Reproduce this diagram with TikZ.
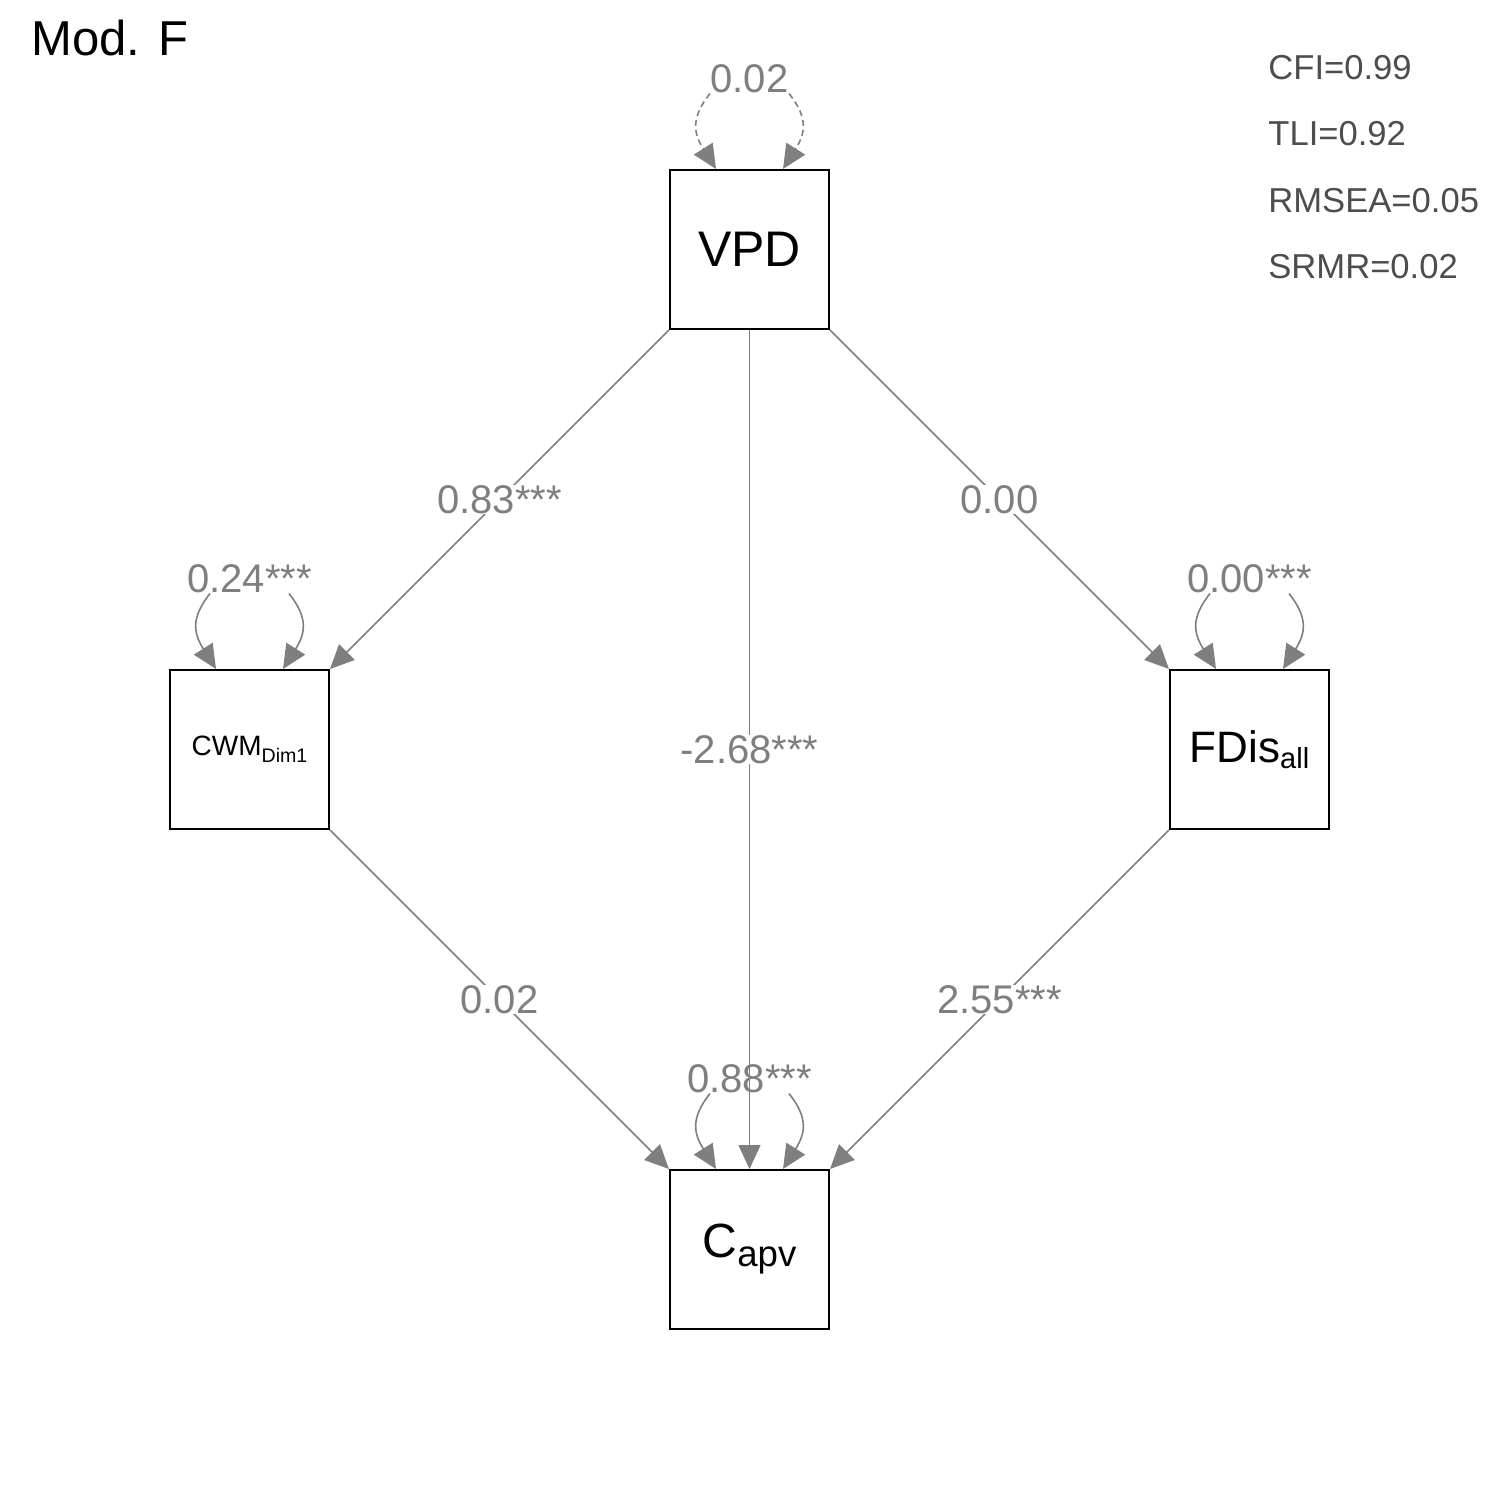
\documentclass[tikz,border=0pt]{standalone}
\usepackage{fontspec}
\setmainfont{Liberation Sans}
\usetikzlibrary{arrows.meta}
\definecolor{pathgray}{HTML}{7F7F7F}
\definecolor{fitgray}{HTML}{4D4D4D}
\tikzset{
  var/.style={draw=black,line width=1pt,minimum size=79.5pt,inner sep=0pt},
  regline/.style={draw=pathgray,line width=0.8pt,-{Triangle[length=12pt,width=11pt,fill=pathgray]}},
  resid/.style={regline},
  resdash/.style={dash pattern=on 3pt off 2pt},
  est/.style={text=pathgray,fill=white,inner sep=0pt,font=\fontsize{20pt}{21pt}\selectfont},
  fitstat/.style={text=fitgray,anchor=west,inner sep=0pt,font=\fontsize{17.3pt}{18pt}\selectfont},
}
\begin{document}
\begin{tikzpicture}[x=0.5pt,y=-0.5pt]
    \useasboundingbox (0,0) rectangle (1500,1500);
    % title and fit
    \node[anchor=west,inner sep=0pt,font=\fontsize{24.5pt}{26pt}\selectfont] (title) at (31,38) {Mod. F};
    \node[fitstat] (cfi) at (1268,68) {CFI=0.99};
    \node[fitstat] (tli) at (1268,134) {TLI=0.92};
    \node[fitstat] (rmsea) at (1268,201) {RMSEA=0.05};
    \node[fitstat] (srmr) at (1268,267) {SRMR=0.02};
    % variables
    \node[var,font=\fontsize{25pt}{27pt}\selectfont] (vpd) at (749.5,249.5) {VPD};
    \node[var,font=\fontsize{14pt}{15pt}\selectfont] (cwm) at (249.5,749.5) {CWM{\fontsize{9.8pt}{10pt}\selectfont\raisebox{-3.5pt}{Dim1}}};
    \node[var,font=\fontsize{22pt}{24pt}\selectfont] (fdis) at (1249.5,749.5) {FDis{\fontsize{14.5pt}{15pt}\selectfont\raisebox{-3pt}{all}}};
    \node[var,font=\fontsize{24pt}{26pt}\selectfont] (capv) at (749.5,1249.5) {C{\fontsize{18.3pt}{19pt}\selectfont\raisebox{-4.5pt}{apv}}};
    % residual variances
    \node[est] (vpd-r) at ([yshift=45pt]vpd.north) {0.02};
    \node[est] (cwm-r) at ([yshift=45pt]cwm.north) {0.24***};
    \node[est] (fdis-r) at ([yshift=45pt]fdis.north) {0.00***};
    \node[est] (capv-r) at ([yshift=45pt]capv.north) {0.88***};
    \foreach \v/\sty in {vpd/resdash,cwm/solid,fdis/solid,capv/solid} {
        \draw[resid,\sty] ([xshift=-19.75pt]\v-r.south) .. controls +(-20,25) and +(-22,-35) .. ([xshift=-16.75pt]\v.north);
        \draw[resid,\sty] ([xshift=19.75pt]\v-r.south) .. controls +(20,25) and +(22,-35) .. ([xshift=16.75pt]\v.north);
    }
    % regressions
    \draw[regline] (vpd.south west) -- node[est] {0.83***} (cwm.north east);
    \draw[regline] (vpd.south east) -- node[est] {0.00} (fdis.north west);
    \draw[regline] (vpd.south) -- node[est] {-2.68***} (capv.north);
    \draw[regline] (cwm.south east) -- node[est] {0.02} (capv.north west);
    \draw[regline] (fdis.south west) -- node[est] {2.55***} (capv.north east);
\end{tikzpicture}
\end{document}
